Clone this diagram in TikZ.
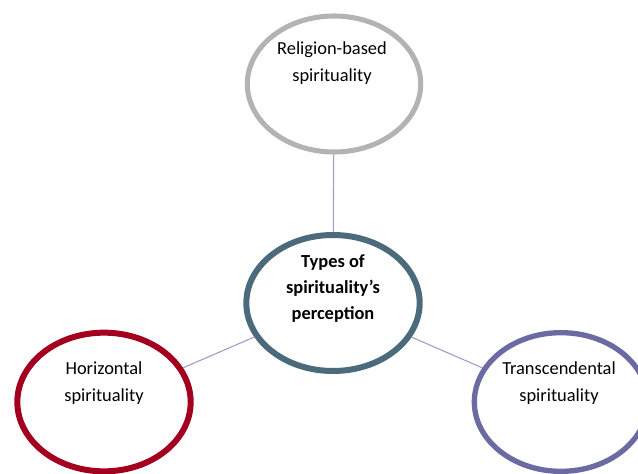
\documentclass[tikz,border=0pt]{standalone}
\usepackage{fontspec}
\setmainfont{Carlito}
\usepackage{tikz}
\usetikzlibrary{shapes.geometric}
\definecolor{relgray}{HTML}{B3B3B3}
\definecolor{slate}{HTML}{4B6B7D}
\definecolor{crimson}{HTML}{A3001F}
\definecolor{lavender}{HTML}{6C6AA3}
\definecolor{linkcol}{HTML}{9C9CC8}
\begin{document}
\begin{tikzpicture}[x=0.75pt,y=-0.75pt,
  bubble/.style={ellipse,draw,line width=4pt,inner sep=0pt,minimum width=130pt,minimum height=102pt},
  bubbletext/.style={align=center,font=\fontsize{13.8}{20}\selectfont},
  link/.style={draw=linkcol,line width=0.8pt}]
\useasboundingbox (0,0) rectangle (638,474);
% circles
\node[bubble,draw=relgray,line width=3.8pt] (rel) at (334,84) {};
\node[bubble,draw=slate,line width=4.5pt] (types) at (333,303) {};
\node[bubble,draw=crimson,line width=4.5pt,minimum height=104pt] (hor) at (104,402) {};
\node[bubble,draw=lavender,minimum height=104pt] (tra) at (561,402) {};
% connectors
\draw[link] (types) -- (rel);
\draw[link] (types) -- (hor);
\draw[link] (types) -- (tra);
% texts
\node[bubbletext] (reltext) at (332,63) {Religion-based\\spirituality};
\node[bubbletext,font=\fontsize{13.8}{19.5}\selectfont\bfseries] (typestext) at (333,289) {Types of\\spirituality’s\\perception};
\node[bubbletext] (hortext) at (104,383) {Horizontal\\spirituality};
\node[bubbletext] (tratext) at (559,383) {Transcendental\\spirituality};
\end{tikzpicture}
\end{document}
